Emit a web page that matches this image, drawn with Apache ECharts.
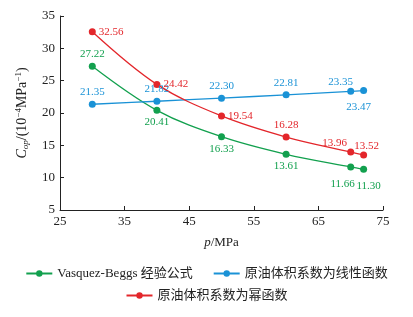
<!DOCTYPE html>
<html>
<head>
<meta charset="utf-8">
<script src="https://cdn.jsdelivr.net/npm/echarts@6/dist/echarts.min.js"></script>
<style>
html, body { margin: 0; padding: 0; background: #fff; }
#chart { width: 413px; height: 317px; }
</style>
</head>
<body>
<div id="chart"></div>
<script>
var pressure = [30, 40, 50, 60, 70, 72];
var vasquez = [27.22, 20.41, 16.33, 13.61, 11.66, 11.30];
var linear = [21.35, 21.82, 22.30, 22.81, 23.35, 23.47];
var power = [32.56, 24.42, 19.54, 16.28, 13.96, 13.52];
var names = ['Vasquez-Beggs 经验公式', '原油体积系数为线性函数', '原油体积系数为幂函数'];

var vasquezPos = ['top', 'bottom', 'bottom', 'bottom', ['-8', '17'], ['5', '17']];
var linearPos = ['top', 'top', 'top', 'top', ['-10', '-9'], ['-5', '17']];
var powerPos = ['right', 'right', 'right', 'top', ['-16', '-9'], ['3', '-9']];

var serif = '"Liberation Serif", "Noto Sans CJK SC", serif';

function pairs(vals, pos) {
    return vals.map(function (v, i) {
        var p = pos[i];
        var item = { value: [pressure[i], v], label: {} };
        if (typeof p === 'string') {
            item.label.position = p;
        } else {
            item.label.position = 'inside';
            item.label.offset = [parseInt(p[0], 10), parseInt(p[1], 10)];
        }
        return item;
    });
}

function series(name, vals, pos, color) {
    return {
        name: name,
        type: 'line',
        smooth: 0.35,
        symbol: 'circle',
        symbolSize: 7,
        data: pairs(vals, pos),
        itemStyle: { color: color },
        lineStyle: { color: color, width: 1.3 },
        label: {
            show: true,
            color: color,
            fontFamily: serif,
            fontSize: 11,
            distance: 3,
            formatter: function (p) { return p.value[1].toFixed(2); }
        }
    };
}

var legendCommon = {
    left: 'center',
    itemWidth: 26,
    itemHeight: 8,
    itemGap: 20,
    textStyle: { fontFamily: serif, fontSize: 13, color: '#222' }
};

var chart = echarts.init(document.getElementById('chart'));
chart.setOption({
    animation: false,
    backgroundColor: '#fff',
    grid: { left: 60, right: 30, top: 16, bottom: 107 },
    xAxis: {
        type: 'value',
        min: 25, max: 75, interval: 10,
        name: '{i|p}/MPa',
        nameLocation: 'middle',
        nameGap: 26,
        nameTextStyle: {
            fontFamily: serif, fontSize: 13, color: '#222',
            rich: { i: { fontStyle: 'italic', fontFamily: serif, fontSize: 13, color: '#222' } }
        },
        axisLine: { lineStyle: { color: '#222', width: 1 } },
        axisTick: { inside: true, length: 4, lineStyle: { color: '#222' } },
        axisLabel: { fontFamily: serif, fontSize: 13, color: '#222', margin: 5 },
        splitLine: { show: false }
    },
    yAxis: {
        type: 'value',
        min: 5, max: 35, interval: 5,
        name: '{i|C}{sub|op}/(10{sup|−4}MPa{sup|−1})',
        nameLocation: 'middle',
        nameGap: 30,
        nameRotate: 90,
        nameTextStyle: {
            fontFamily: serif, fontSize: 14, color: '#222',
            rich: {
                i: { fontStyle: 'italic', fontFamily: serif, fontSize: 14, color: '#222' },
                sub: { fontStyle: 'italic', fontFamily: serif, fontSize: 9, color: '#222', verticalAlign: 'bottom', padding: [7, 0, 0, 0] },
                sup: { fontFamily: serif, fontSize: 9, color: '#222', verticalAlign: 'top', padding: [0, 0, 7, 0] }
            }
        },
        axisLine: { show: true, lineStyle: { color: '#222', width: 1 } },
        axisTick: { show: true, inside: true, length: 4, lineStyle: { color: '#222' } },
        axisLabel: { fontFamily: serif, fontSize: 13, color: '#222', margin: 5 },
        splitLine: { show: false }
    },
    legend: [
        Object.assign({ data: names.slice(0, 2), top: 262 }, legendCommon),
        Object.assign({ data: names.slice(2), top: 284 }, legendCommon)
    ],
    series: [
        series(names[0], vasquez, vasquezPos, '#12a04e'),
        series(names[1], linear, linearPos, '#1a92d6'),
        series(names[2], power, powerPos, '#e3262b')
    ]
});
</script>
</body>
</html>
